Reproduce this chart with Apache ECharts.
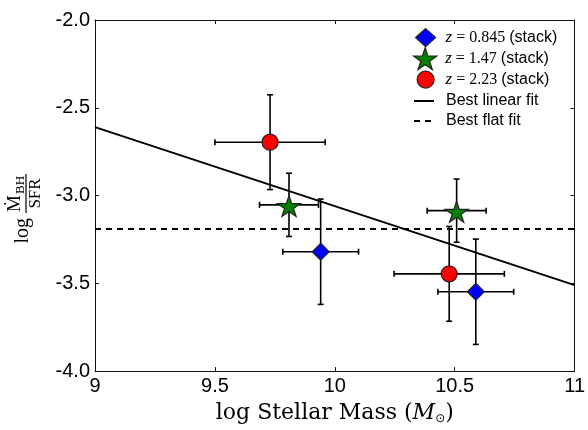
<!DOCTYPE html>
<html>
<head>
<meta charset="utf-8">
<script src="https://cdn.jsdelivr.net/npm/echarts@6/dist/echarts.min.js"></script>
<style>
  html, body { margin: 0; padding: 0; background: #fff; }
  #chart { width: 588px; height: 430px; }
</style>
</head>
<body>
<div id="chart"></div>
<script>
// Stacked samples in three redshift bins: centre values and symmetric errors
const redshifts = ['0.845', '1.47', '2.23'];

const lowZMass = [9.941, 10.588];
const lowZRatio = [-3.320, -3.548];
const lowZMassErr = [0.158, 0.158];
const lowZRatioErr = [0.30, 0.30];

const midZMass = [9.809, 10.508];
const midZRatio = [-3.053, -3.086];
const midZMassErr = [0.123, 0.123];
const midZRatioErr = [0.18, 0.18];

const highZMass = [9.730, 10.477];
const highZRatio = [-2.696, -3.446];
const highZMassErr = [0.23, 0.23];
const highZRatioErr = [0.27, 0.27];

// Fits across the mass range
const linearFitMass = [9, 11];
const linearFitRatio = [-2.61, -3.51];
const flatFitMass = [9, 11];
const flatFitRatio = [-3.19, -3.19];

// Tick labels
const xTickLabels = ['9', '9.5', '10', '10.5', '11'];
const yTickLabels = ['-4.0', '-3.5', '-3.0', '-2.5', '-2.0'];

const names = redshifts.map(z => 'z = ' + z + ' (stack)');
const LINEAR = 'Best linear fit';
const FLAT = 'Best flat fit';

const STAR = 'path://M0,-100L22.45,-30.9L95.11,-30.9L36.33,11.8L58.78,80.9L0,38.2L-58.78,80.9L-36.33,11.8L-95.11,-30.9L-22.45,-30.9Z';

function zip(a, b) { return a.map((v, i) => [v, b[i]]); }
function errRows(m, r, me, re) { return m.map((v, i) => [v, r[i], me[i], re[i]]); }

const SERIF = '"Liberation Serif", "DejaVu Serif", serif';
const WIDE_SERIF = '"DejaVu Serif", serif';
const SANS = '"Liberation Sans", Arial, sans-serif';

function renderErrorBar(params, api) {
  const x = api.value(0), y = api.value(1), ex = api.value(2), ey = api.value(3);
  const l = api.coord([x - ex, y]);
  const r = api.coord([x + ex, y]);
  const t = api.coord([x, y + ey]);
  const b = api.coord([x, y - ey]);
  const cap = 3;
  const style = { stroke: '#000', lineWidth: 1.6 };
  const seg = (x1, y1, x2, y2) => ({ type: 'line', shape: { x1, y1, x2, y2 }, style });
  return {
    type: 'group',
    children: [
      seg(l[0], l[1], r[0], r[1]),
      seg(l[0], l[1] - cap, l[0], l[1] + cap),
      seg(r[0], r[1] - cap, r[0], r[1] + cap),
      seg(t[0], t[1], b[0], b[1]),
      seg(t[0] - cap, t[1], t[0] + cap, t[1]),
      seg(b[0] - cap, b[1], b[0] + cap, b[1])
    ]
  };
}

const errorRows = [].concat(
  errRows(lowZMass, lowZRatio, lowZMassErr, lowZRatioErr),
  errRows(midZMass, midZRatio, midZMassErr, midZRatioErr),
  errRows(highZMass, highZRatio, highZMassErr, highZRatioErr)
);

const legendRich = {
  z: { fontFamily: SERIF, fontStyle: 'italic', fontSize: 17, color: '#000' },
  e: { fontFamily: SERIF, fontSize: 16, color: '#000' },
  s: { fontFamily: SANS, fontSize: 16, color: '#000' }
};

function legendBlock(name, left, top, w, h, icon, pad, isLine) {
  const rich = JSON.parse(JSON.stringify(legendRich));
  rich.p = { width: pad };
  return {
    data: [icon ? { name: name, icon: icon } : { name: name }],
    orient: 'vertical',
    left: left, top: top,
    padding: 0,
    itemWidth: w, itemHeight: h,
    selectedMode: false,
    itemStyle: isLine
      ? { color: 'rgba(0,0,0,0)', borderColor: 'rgba(0,0,0,0)', borderWidth: 0 }
      : { borderWidth: 1.2, borderColor: '#222' },
    textStyle: { color: '#000', rich: rich, lineHeight: 16 },
    formatter: function (n) {
      const k = names.indexOf(n);
      if (k >= 0) return '{p|}{z|z}{e| = ' + redshifts[k] + ' }{s|(stack)}';
      return '{p|}{s|' + n + '}';
    }
  };
}

const axisCommon = {
  type: 'value',
  interval: 0.5,
  splitLine: { show: false },
  axisLine: { show: true, onZero: false, lineStyle: { color: '#111', width: 1 } },
  axisTick: { show: true, inside: true, length: 4, lineStyle: { color: '#111', width: 1 } }
};

const option = {
  animation: false,
  backgroundColor: '#fff',
  grid: { left: 95, right: 11, top: 20, bottom: 49, containLabel: false },
  xAxis: [
    Object.assign({}, axisCommon, {
      min: 9, max: 11, position: 'bottom',
      axisLabel: {
        color: '#000', fontFamily: SANS, fontSize: 20, margin: 5,
        formatter: (v, i) => xTickLabels[i]
      },
      name: 'log Stellar Mass ({i|M}{sub|⊙})',
      nameLocation: 'middle',
      nameGap: 28,
      nameTextStyle: {
        color: '#000', fontFamily: WIDE_SERIF, fontSize: 22, lineHeight: 24,
        rich: {
          i: { fontFamily: WIDE_SERIF, fontStyle: 'italic', fontSize: 22, lineHeight: 24, color: '#000' },
          sub: { fontFamily: '"DejaVu Sans", sans-serif', fontSize: 12, lineHeight: 24, verticalAlign: 'bottom', color: '#000' }
        }
      }
    }),
    Object.assign({}, axisCommon, {
      min: 9, max: 11, position: 'top', axisLabel: { show: false }
    })
  ],
  yAxis: [
    Object.assign({}, axisCommon, {
      min: -4, max: -2, position: 'left',
      axisLabel: {
        color: '#000', fontFamily: SANS, fontSize: 20, margin: 5,
        formatter: (v, i) => yTickLabels[i]
      }
    }),
    Object.assign({}, axisCommon, {
      min: -4, max: -2, position: 'right', axisLabel: { show: false }
    })
  ],
  legend: [
    legendBlock(names[0], 415, 28, 20, 18, 'diamond', 5, false),
    legendBlock(names[1], 413, 47, 24, 22, STAR, 3, false),
    legendBlock(names[2], 416.5, 70.5, 17, 17, 'circle', 6.5, false),
    legendBlock(LINEAR, 413, 93, 20, 14, null, 7, true),
    legendBlock(FLAT, 413, 113, 20, 14, null, 7, true)
  ],
  graphic: [
    {
      type: 'group',
      x: 26, y: 216,
      rotation: Math.PI / 2,
      children: [
        { type: 'text', x: -2, y: -3,
          style: { text: 'log', font: '20px ' + SERIF, fill: '#000', align: 'right', verticalAlign: 'middle' } },
        { type: 'text', x: 4, y: -1,
          style: { text: 'Ṁ', font: '19px ' + SERIF, fill: '#000', align: 'left', verticalAlign: 'bottom' } },
        { type: 'text', x: 22, y: 1,
          style: { text: 'BH', font: '13px ' + SERIF, fill: '#000', align: 'left', verticalAlign: 'bottom' } },
        { type: 'line', shape: { x1: 3, y1: 0, x2: 42, y2: 0 }, style: { stroke: '#000', lineWidth: 1.2 } },
        { type: 'text', x: 22.5, y: 1,
          style: { text: 'SFR', font: '17px ' + SERIF, fill: '#000', align: 'center', verticalAlign: 'top' } }
      ]
    }
  ],
  series: [
    {
      type: 'custom',
      renderItem: renderErrorBar,
      encode: { x: 0, y: 1 },
      data: errorRows,
      z: 1,
      silent: true
    },
    {
      name: LINEAR, type: 'line', data: zip(linearFitMass, linearFitRatio),
      symbol: 'none', itemStyle: { color: '#000' },
      lineStyle: { color: '#000', width: 2 }, z: 2, silent: true
    },
    {
      name: FLAT, type: 'line', data: zip(flatFitMass, flatFitRatio),
      symbol: 'none', itemStyle: { color: '#000' },
      lineStyle: { color: '#000', width: 2, type: [6, 5] }, z: 2, silent: true
    },
    {
      name: names[0], type: 'scatter', data: zip(lowZMass, lowZRatio),
      symbol: 'diamond', symbolSize: 17,
      itemStyle: { color: '#0000ff', borderColor: '#222', borderWidth: 1.2, opacity: 1 }, z: 3
    },
    {
      name: names[1], type: 'scatter', data: zip(midZMass, midZRatio),
      symbol: STAR, symbolSize: [23, 22], symbolKeepAspect: true, symbolOffset: [0, 1.2],
      itemStyle: { color: '#008000', borderColor: '#222', borderWidth: 1.2, opacity: 1 }, z: 3
    },
    {
      name: names[2], type: 'scatter', data: zip(highZMass, highZRatio),
      symbol: 'circle', symbolSize: 16,
      itemStyle: { color: '#ff0000', borderColor: '#222', borderWidth: 1.2, opacity: 1 }, z: 3
    }
  ]
};

const chart = echarts.init(document.getElementById('chart'), null, { renderer: 'canvas' });
chart.setOption(option);
</script>
</body>
</html>
